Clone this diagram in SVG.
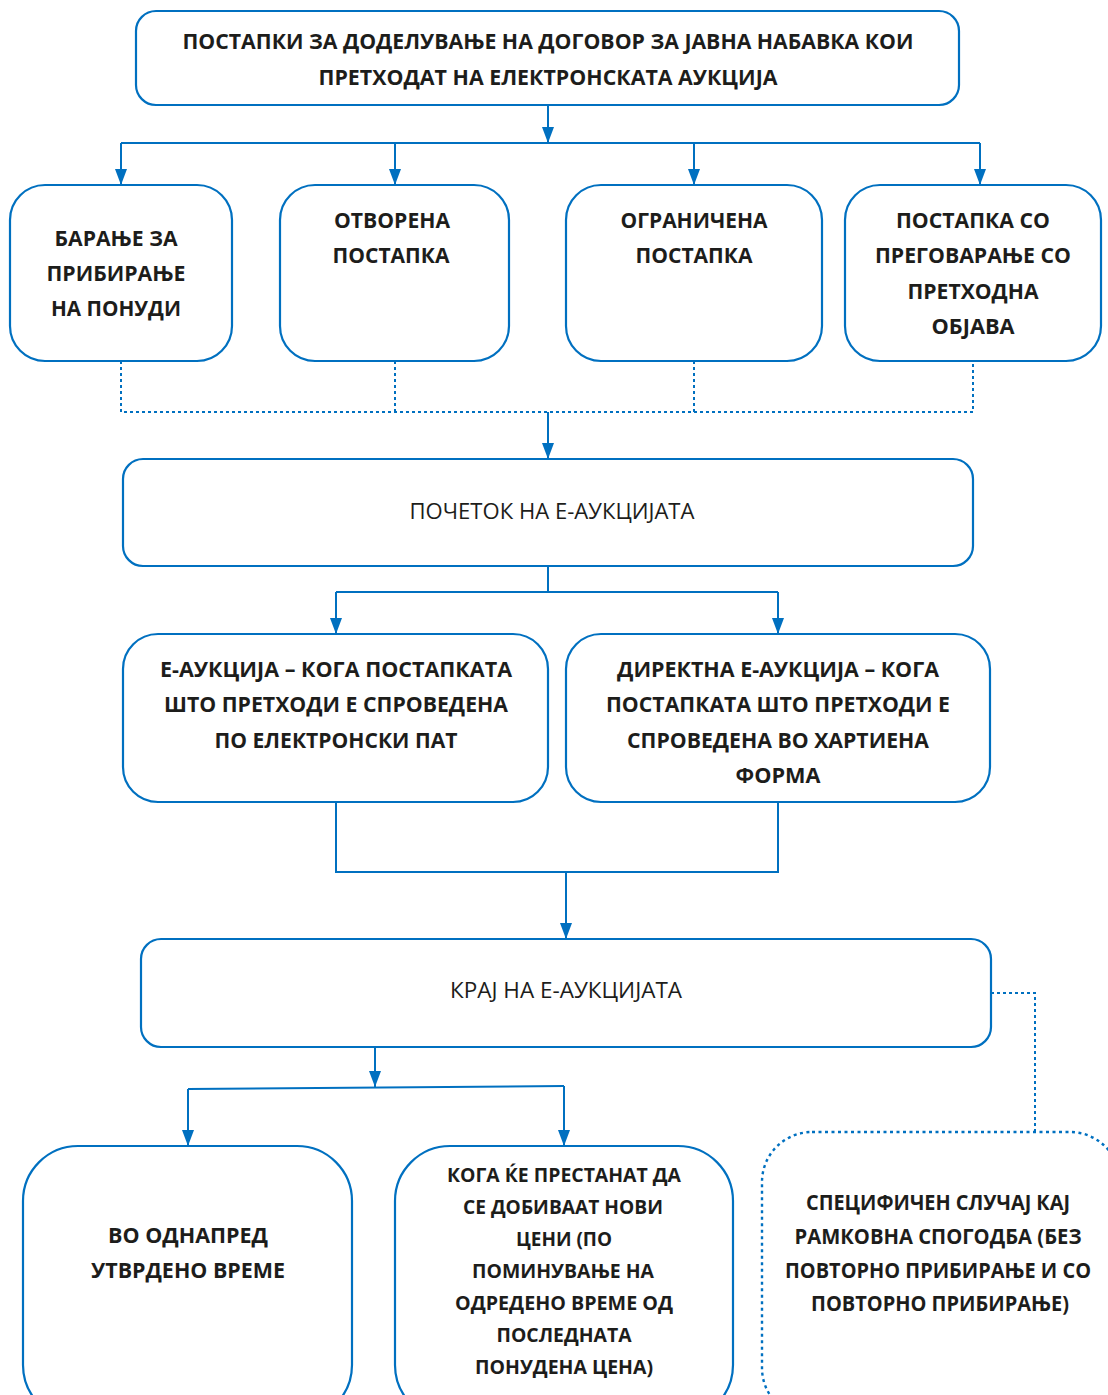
<svg xmlns="http://www.w3.org/2000/svg" width="1108" height="1395" viewBox="0 0 1108 1395">
  <style>
    .box { fill: #ffffff; stroke: #0070C0; stroke-width: 2.2; }
    .dbox { fill: #ffffff; stroke: #0070C0; stroke-width: 2.4; stroke-dasharray: 3 3.5; }
    .ln { fill: none; stroke: #0070C0; stroke-width: 2; }
    .dot { fill: none; stroke: #0070C0; stroke-width: 2; stroke-dasharray: 3 3; }
    text { font-family: "Open Sans", "Liberation Sans", sans-serif; fill: #1d1d1b; text-anchor: middle; }
    .b { font-weight: bold; font-size: 21.5px; }
    .bs { font-weight: bold; font-size: 20px; }
    .r { font-weight: normal; font-size: 21px; }
  </style>
  <defs>
    <marker id="arr" viewBox="0 0 16 12" refX="16" refY="6" markerWidth="16" markerHeight="12" markerUnits="userSpaceOnUse" orient="auto">
      <path d="M0,0 L16,6 L0,12 z" fill="#0070C0"/>
    </marker>
  </defs>

  <!-- connectors -->
  <g id="connectors">
    <path class="ln" d="M548,105 V143" marker-end="url(#arr)"/>
    <path class="ln" d="M121,143 H980"/>
    <path class="ln" d="M121,143 V185" marker-end="url(#arr)"/>
    <path class="ln" d="M395,143 V185" marker-end="url(#arr)"/>
    <path class="ln" d="M694,143 V185" marker-end="url(#arr)"/>
    <path class="ln" d="M980,143 V185" marker-end="url(#arr)"/>

    <path class="dot" d="M121,361 V412 H973 V361"/>
    <path class="dot" d="M395,361 V412"/>
    <path class="dot" d="M694,361 V412"/>
    <path class="ln" d="M548,412 V459" marker-end="url(#arr)"/>

    <path class="ln" d="M548,566 V592"/>
    <path class="ln" d="M336,592 H778"/>
    <path class="ln" d="M336,592 V634" marker-end="url(#arr)"/>
    <path class="ln" d="M778,592 V634" marker-end="url(#arr)"/>

    <path class="ln" d="M336,802 V872 H778 V802"/>
    <path class="ln" d="M566,872 V939" marker-end="url(#arr)"/>

    <path class="ln" d="M375,1047 V1087" marker-end="url(#arr)"/>
    <path class="ln" d="M188,1089 L564,1086"/>
    <path class="ln" d="M188,1089 V1146" marker-end="url(#arr)"/>
    <path class="ln" d="M564,1086 V1146" marker-end="url(#arr)"/>

    <path class="dot" d="M991,993 H1035 V1132"/>
  </g>

  <!-- top: preceding procedures -->
  <g id="n-procedures">
    <rect class="box" x="136" y="11" width="823" height="94" rx="20"/>
    <text class="b" x="548" y="49" font-size="22" textLength="731" lengthAdjust="spacingAndGlyphs">ПОСТАПКИ ЗА ДОДЕЛУВАЊЕ НА ДОГОВОР ЗА ЈАВНА НАБАВКА КОИ</text>
    <text class="b" x="548" y="85" font-size="22" textLength="459" lengthAdjust="spacingAndGlyphs">ПРЕТХОДАТ НА ЕЛЕКТРОНСКАТА АУКЦИЈА</text>
  </g>

  <g id="n-request">
    <rect class="box" x="10" y="185" width="222" height="176" rx="35"/>
    <text class="b" x="116" y="246" textLength="123" lengthAdjust="spacingAndGlyphs">БАРАЊЕ ЗА</text>
    <text class="b" x="116" y="281" textLength="139" lengthAdjust="spacingAndGlyphs">ПРИБИРАЊЕ</text>
    <text class="b" x="116" y="316" textLength="130" lengthAdjust="spacingAndGlyphs">НА ПОНУДИ</text>
  </g>

  <g id="n-open">
    <rect class="box" x="280" y="185" width="229" height="176" rx="35"/>
    <text class="b" x="392" y="228" textLength="116" lengthAdjust="spacingAndGlyphs">ОТВОРЕНА</text>
    <text class="b" x="391" y="263" textLength="117" lengthAdjust="spacingAndGlyphs">ПОСТАПКА</text>
  </g>

  <g id="n-restricted">
    <rect class="box" x="566" y="185" width="256" height="176" rx="35"/>
    <text class="b" x="694" y="228" textLength="147" lengthAdjust="spacingAndGlyphs">ОГРАНИЧЕНА</text>
    <text class="b" x="694" y="263" textLength="117" lengthAdjust="spacingAndGlyphs">ПОСТАПКА</text>
  </g>

  <g id="n-negotiated">
    <rect class="box" x="845" y="185" width="256" height="176" rx="35"/>
    <text class="b" x="973" y="228" textLength="154" lengthAdjust="spacingAndGlyphs">ПОСТАПКА СО</text>
    <text class="b" x="973" y="263" textLength="196" lengthAdjust="spacingAndGlyphs">ПРЕГОВАРАЊЕ СО</text>
    <text class="b" x="973" y="299" textLength="131" lengthAdjust="spacingAndGlyphs">ПРЕТХОДНА</text>
    <text class="b" x="973" y="334" textLength="83" lengthAdjust="spacingAndGlyphs">ОБЈАВА</text>
  </g>

  <g id="n-start">
    <rect class="box" x="123" y="459" width="850" height="107" rx="20"/>
    <text class="r" x="552" y="519" textLength="285" lengthAdjust="spacingAndGlyphs">ПОЧЕТОК НА Е-АУКЦИЈАТА</text>
  </g>

  <g id="n-electronic">
    <rect class="box" x="123" y="634" width="425" height="168" rx="35"/>
    <text class="b" x="336" y="677" textLength="352" lengthAdjust="spacingAndGlyphs">Е-АУКЦИЈА – КОГА ПОСТАПКАТА</text>
    <text class="b" x="336" y="712" textLength="344" lengthAdjust="spacingAndGlyphs">ШТО ПРЕТХОДИ Е СПРОВЕДЕНА</text>
    <text class="b" x="336" y="748" textLength="243" lengthAdjust="spacingAndGlyphs">ПО ЕЛЕКТРОНСКИ ПАТ</text>
  </g>

  <g id="n-direct">
    <rect class="box" x="566" y="634" width="424" height="168" rx="35"/>
    <text class="b" x="778" y="677" textLength="322" lengthAdjust="spacingAndGlyphs">ДИРЕКТНА Е-АУКЦИЈА – КОГА</text>
    <text class="b" x="778" y="712" textLength="344" lengthAdjust="spacingAndGlyphs">ПОСТАПКАТА ШТО ПРЕТХОДИ Е</text>
    <text class="b" x="778" y="748" textLength="302" lengthAdjust="spacingAndGlyphs">СПРОВЕДЕНА ВО ХАРТИЕНА</text>
    <text class="b" x="778" y="783" textLength="85" lengthAdjust="spacingAndGlyphs">ФОРМА</text>
  </g>

  <g id="n-end">
    <rect class="box" x="141" y="939" width="850" height="108" rx="20"/>
    <text class="r" x="566" y="998" textLength="232" lengthAdjust="spacingAndGlyphs">КРАЈ НА Е-АУКЦИЈАТА</text>
  </g>

  <g id="n-fixed-time">
    <rect class="box" x="23" y="1146" width="329" height="274" rx="55"/>
    <text class="b" x="188" y="1243" textLength="160" lengthAdjust="spacingAndGlyphs">ВО ОДНАПРЕД</text>
    <text class="b" x="188" y="1278" textLength="194" lengthAdjust="spacingAndGlyphs">УТВРДЕНО ВРЕМЕ</text>
  </g>

  <g id="n-no-new-prices">
    <rect class="box" x="395" y="1146" width="338" height="274" rx="55"/>
    <text class="bs" x="564" y="1182" textLength="234" lengthAdjust="spacingAndGlyphs">КОГА ЌЕ ПРЕСТАНАТ ДА</text>
    <text class="bs" x="563" y="1214" textLength="200" lengthAdjust="spacingAndGlyphs">СЕ ДОБИВААТ НОВИ</text>
    <text class="bs" x="564" y="1246" textLength="96" lengthAdjust="spacingAndGlyphs">ЦЕНИ (ПО</text>
    <text class="bs" x="563" y="1278" textLength="182" lengthAdjust="spacingAndGlyphs">ПОМИНУВАЊЕ НА</text>
    <text class="bs" x="564" y="1310" textLength="218" lengthAdjust="spacingAndGlyphs">ОДРЕДЕНО ВРЕМЕ ОД</text>
    <text class="bs" x="564" y="1342" textLength="135" lengthAdjust="spacingAndGlyphs">ПОСЛЕДНАТА</text>
    <text class="bs" x="564" y="1374" textLength="178" lengthAdjust="spacingAndGlyphs">ПОНУДЕНА ЦЕНА)</text>
  </g>

  <g id="n-framework">
    <rect class="dbox" x="762" y="1132" width="358" height="286" rx="50"/>
    <text class="b" x="938" y="1210" textLength="264" lengthAdjust="spacingAndGlyphs">СПЕЦИФИЧЕН СЛУЧАЈ КАЈ</text>
    <text class="b" x="938" y="1244" textLength="287" lengthAdjust="spacingAndGlyphs">РАМКОВНА СПОГОДБА (БЕЗ</text>
    <text class="b" x="938" y="1278" textLength="306" lengthAdjust="spacingAndGlyphs">ПОВТОРНО ПРИБИРАЊЕ И СО</text>
    <text class="b" x="940" y="1311" textLength="258" lengthAdjust="spacingAndGlyphs">ПОВТОРНО ПРИБИРАЊЕ)</text>
  </g>
</svg>
